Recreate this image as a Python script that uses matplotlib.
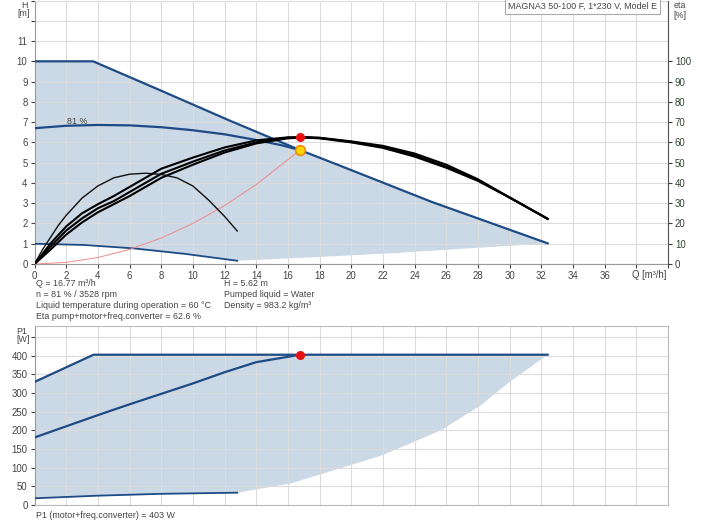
import matplotlib
matplotlib.use("Agg")
import matplotlib.pyplot as plt

plt.rcParams['font.family'] = ['Liberation Sans', 'DejaVu Sans']

# ---- head curves (H in m vs Q in m3/h)
q_max = [0, 3.7, 8, 12.4, 16.77, 19.36, 25.06, 32.4]
h_max = [10, 10, 8.55, 7.05, 5.62, 4.83, 3.07, 1.02]

q_min = [0, 3.1, 6.26, 9.5, 12.8]
h_min = [1.0, 0.94, 0.77, 0.5, 0.16]

q_low = [12.8, 18.3, 22.5, 27, 32.4]
h_low = [0.16, 0.36, 0.53, 0.75, 1.02]

q_81 = [0, 2, 4, 6, 8, 10, 12, 14, 15.6, 16.77]
h_81 = [6.7, 6.82, 6.86, 6.84, 6.75, 6.6, 6.4, 6.12, 5.86, 5.62]

q_sys = [0, 2, 4, 6, 8, 10, 12, 14, 16.77]
h_sys = [0, 0.08, 0.32, 0.72, 1.28, 2.0, 2.88, 3.92, 5.62]

# ---- efficiency curves (eta in %)
q_eta = [0, 1, 2, 3, 4, 5, 6, 8, 10, 12, 14, 16, 17, 18, 20, 22, 24, 26, 28, 30, 32.4]
eta_a = [0, 10, 18.5, 25, 29.5, 33.5, 38, 47, 52.5, 57.5, 61, 62.5, 62.6, 62.3, 60.5, 58.3, 54.5, 49, 41.8, 32.8, 22.3]
eta_b = [0, 8.5, 16.5, 22.5, 27.5, 31, 35.5, 44.5, 50.5, 56, 60, 62.3, 62.5, 62.2, 60.3, 57.8, 53.7, 48, 41.3, 32.8, 22.3]
eta_c = [0, 7, 14.5, 20.5, 25.5, 29.5, 33.5, 42.5, 49, 55, 59.5, 62, 62.4, 62, 60, 57.3, 53, 47.5, 41, 32.8, 22.3]

q_eta_min = [0, 0.5, 1, 1.5, 2, 3, 4, 5, 6, 7, 8, 9, 10, 11, 12, 12.8]
eta_min = [0, 7, 13, 19, 24, 32.5, 38.5, 42.5, 44.3, 44.8, 44.2, 42.5, 38.5, 31.5, 23.5, 16.3]

# ---- power curves (P1 in W)
q_pmax = [0, 3.73, 32.4]
p_max = [330, 403, 403]

q_p81 = [0, 2, 4, 6, 8, 10, 12, 14, 16.77]
p_81 = [181, 211, 241, 270, 298, 326, 356, 383, 403]

q_pmin = [0, 4, 8, 12.8]
p_min = [18, 25, 30, 33]

q_plow = [12.8, 16.2, 19.35, 22, 25.7, 28.2, 29.9, 32.4]
p_plow = [33, 58, 99, 134, 201, 268, 327, 403]

q_op, h_op, eta_op, p_op = 16.77, 5.62, 62.6, 403

blue = '#1d4b85'
shade = '#cbd8e5'
grid_c = '#dcdcdc'
spine_c = '#999999'
txt_c = '#444444'
fs = 6.4
tfs = 6.9

fig = plt.figure(figsize=(7.04, 5.28), dpi=100)
W, H = 704, 528
left, right = 34.5 / W, 668 / W

# ================= top chart =================
ax = fig.add_axes([left, 1 - 264 / H, right - left, 264 / H - 0.001])
ax.set_xlim(0, 40)
ax.set_ylim(0, 13)

ax.fill(q_max + q_low[::-1] + q_min[::-1], h_max + h_low[::-1] + h_min[::-1],
        color=shade, lw=0, zorder=1)
ax.plot(q_max, h_max, color=blue, lw=1.6, zorder=3)
ax.plot(q_min, h_min, color=blue, lw=1.3, zorder=3)
ax.plot(q_81, h_81, color=blue, lw=1.6, zorder=3)
ax.plot(q_sys, h_sys, color='#f08a8a', lw=0.7, zorder=3)
ax.text(2.7, 7.05, '81 %', fontsize=fs, color=txt_c, ha='center', va='center')
ax.plot([q_op], [h_op], 'o', ms=7, mfc='#ffd700', mec='#f08c00', mew=1.2, zorder=6)

ax.set_xticks(range(0, 41, 2))
ax.set_xticklabels([str(v) for v in range(0, 37, 2)] + ['', ''])
ax.set_yticks(range(0, 14))
ax.set_yticklabels([str(v) for v in range(0, 12)] + ['', ''])
ax.grid(True, color=grid_c, lw=0.8)
ax.tick_params(labelsize=tfs, colors=txt_c, length=3, width=0.8, pad=2)
for s in ax.spines.values():
    s.set_color('#dddddd')
ax.spines['left'].set_color(spine_c)
ax.spines['bottom'].set_color(spine_c)
ax.text(39.9, -0.3, 'Q [m³/h]', fontsize=tfs, color=txt_c, ha='right', va='top')

ax2 = ax.twinx()
ax2.set_ylim(0, 130)
ax2.set_yticks(range(0, 101, 10))
ax2.tick_params(labelsize=tfs, colors='#334433', length=3, width=0.8, pad=2)
ax2.spines['right'].set_color('#555555')
for k in ['left', 'top', 'bottom']:
    ax2.spines[k].set_visible(False)
ax2.plot(q_eta_min, eta_min, color='#111111', lw=1.0)
for e in (eta_a, eta_b, eta_c):
    ax2.plot(q_eta, e, color='black', lw=1.5)
ax2.plot([q_op], [eta_op], 'o', ms=5.5, color='#e81010', zorder=6)

ax.text(0.983, 0.995, 'MAGNA3 50-100 F, 1*230 V, Model E', transform=ax.transAxes,
        fontsize=fs, color=txt_c, ha='right', va='top', zorder=10,
        bbox=dict(boxstyle='square,pad=0.35', fc='white', ec='#aaaaaa', lw=0.8))

fig.text(24 / W, 1 - 5 / H, 'H', fontsize=fs, color=txt_c, ha='center', va='center')
fig.text(24 / W, 1 - 14 / H, '[m]', fontsize=fs, color=txt_c, ha='center', va='center')
fig.text(680 / W, 1 - 5 / H, 'eta', fontsize=fs, color=txt_c, ha='center', va='center')
fig.text(680 / W, 1 - 15 / H, '[%]', fontsize=fs, color=txt_c, ha='center', va='center')

# info text
info_left = ['Q = 16.77 m³/h', 'n = 81 % / 3528 rpm',
             'Liquid temperature during operation = 60 °C',
             'Eta pump+motor+freq.converter = 62.6 %']
info_right = ['H = 5.62 m', 'Pumped liquid = Water', 'Density = 983.2 kg/m³']
for i, t in enumerate(info_left):
    fig.text(36 / W, 1 - (284 + i * 10.8) / H, t, fontsize=fs, color=txt_c, va='center')
for i, t in enumerate(info_right):
    fig.text(224 / W, 1 - (284 + i * 10.8) / H, t, fontsize=fs, color=txt_c, va='center')

# ================= bottom chart =================
bx = fig.add_axes([left, 1 - 505 / H, right - left, (505 - 326) / H])
bx.set_xlim(0, 40)
bx.set_ylim(0, 480)
bx.fill(q_pmax + q_plow[::-1] + q_pmin[::-1], p_max + p_plow[::-1] + p_min[::-1],
        color=shade, lw=0, zorder=1)
bx.plot(q_pmax, p_max, color=blue, lw=1.6, zorder=3)
bx.plot(q_p81, p_81, color=blue, lw=1.6, zorder=3)
bx.plot(q_pmin, p_min, color=blue, lw=1.3, zorder=3)
bx.plot([q_op], [p_op], 'o', ms=5.5, color='#e81010', zorder=6)

bx.set_xticks(range(0, 41, 2))
bx.set_xticklabels([])
bx.set_yticks(range(0, 451, 50))
bx.set_yticklabels([str(v) for v in range(0, 401, 50)] + [''])
bx.grid(True, color=grid_c, lw=0.8)
bx.tick_params(axis='y', labelsize=tfs, colors=txt_c, length=3, width=0.8, pad=2)
bx.tick_params(axis='x', length=0)
for s in bx.spines.values():
    s.set_color('#bbbbbb')
bx.spines['left'].set_color(spine_c)

fig.text(22 / W, 1 - 331 / H, 'P1', fontsize=fs, color=txt_c, ha='center', va='center')
fig.text(23 / W, 1 - 340 / H, '[W]', fontsize=fs, color=txt_c, ha='center', va='center')
fig.text(36 / W, 1 - 516 / H, 'P1 (motor+freq.converter) = 403 W', fontsize=fs,
         color=txt_c, va='center')

fig.savefig('out.png', dpi=100)
